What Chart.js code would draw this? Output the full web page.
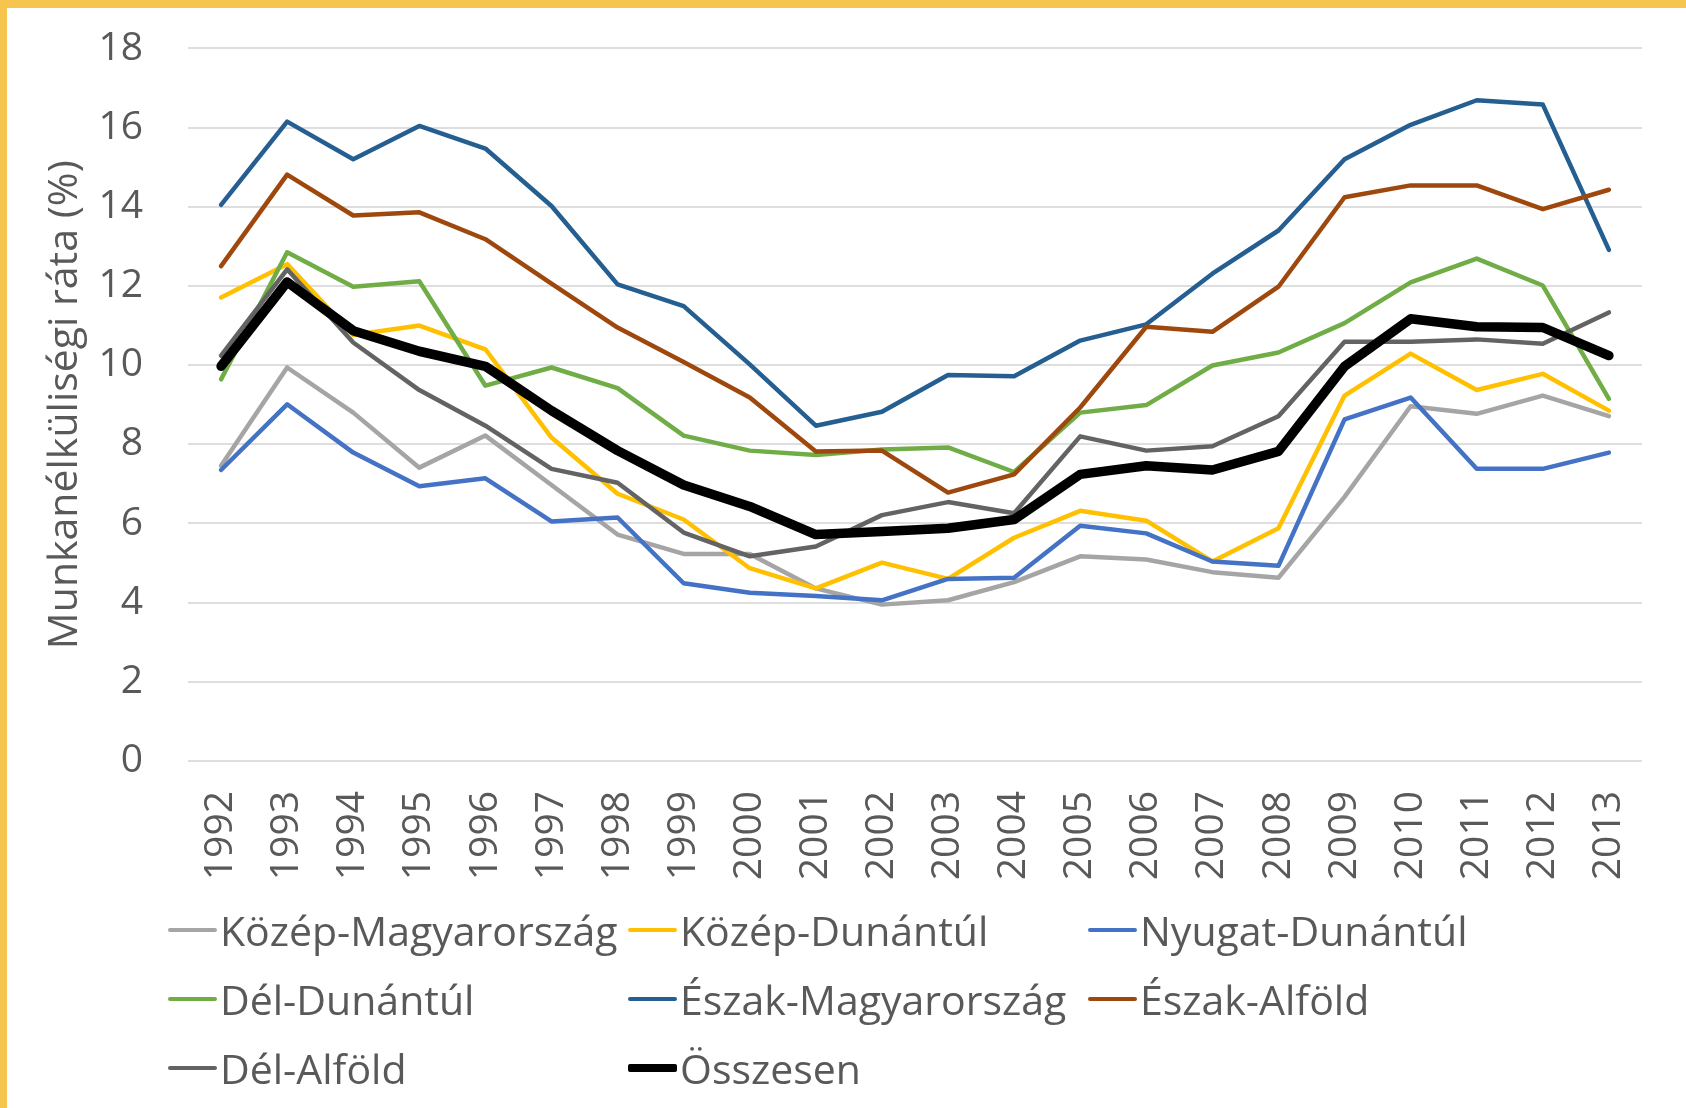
<!DOCTYPE html>
<html>
<head>
<meta charset="utf-8">
<script src="https://cdn.jsdelivr.net/npm/chart.js@4"></script>
<style>
  html, body { margin: 0; padding: 0; background: #fff; }
  body { width: 1686px; height: 1108px; position: relative; overflow: hidden; font-family: "Open Sans", sans-serif; }
  .frame-top { position: absolute; left: 0; top: 0; width: 1686px; height: 8px; background: #f5c54e; z-index: 2; }
  .frame-left { position: absolute; left: 0; top: 0; width: 7px; height: 1108px; background: #f5c54e; z-index: 2; }
  /* canvas pulled up a little: chart.js keeps ~68px above the plot for the rotated labels */
  .chart-box { position: absolute; left: 0; top: -20px; width: 1686px; height: 922px; }
  #legend { position: absolute; left: 168px; top: 895px; display: grid; grid-template-columns: 460px 460px 460px; grid-auto-rows: 69px; }
  .item { display: flex; align-items: center; color: #595959; font-size: 41px; white-space: nowrap; }
  .swatch { width: 49px; margin-right: 3px; border-radius: 2px; }
</style>
</head>
<body>
<div class="frame-top"></div>
<div class="frame-left"></div>
<div class="chart-box"><canvas id="chart"></canvas></div>
<div id="legend"></div>
<script>
const years = ["1992","1993","1994","1995","1996","1997","1998","1999","2000","2001","2002",
  "2003","2004","2005","2006","2007","2008","2009","2010","2011","2012","2013"];

const kozepMagyarorszag = [7.46,9.94,8.8,7.41,8.22,6.97,5.72,5.23,5.23,4.36,3.95,4.06,4.52,5.17,5.09,4.77,4.63,6.67,8.96,8.77,9.23,8.71];
const kozepDunantul = [11.71,12.55,10.76,11.0,10.4,8.17,6.75,6.1,4.87,4.36,5.01,4.6,5.64,6.32,6.07,5.04,5.88,9.23,10.29,9.37,9.78,8.85];
const nyugatDunantul = [7.35,9.01,7.79,6.94,7.14,6.05,6.15,4.49,4.25,4.17,4.06,4.6,4.63,5.94,5.75,5.04,4.93,8.63,9.18,7.38,7.38,7.79];
const delDunantul = [9.64,12.85,11.98,12.12,9.48,9.94,9.42,8.22,7.84,7.73,7.87,7.92,7.3,8.8,8.99,9.99,10.32,11.06,12.09,12.69,12.01,9.15];
const eszakMagyarorszag = [14.05,16.15,15.2,16.04,15.47,14.02,12.04,11.49,10.02,8.47,8.82,9.75,9.72,10.62,11.03,12.31,13.4,15.2,16.07,16.69,16.58,12.91];
const eszakAlfold = [12.5,14.81,13.78,13.86,13.18,12.06,10.95,10.08,9.18,7.82,7.84,6.78,7.24,8.93,10.97,10.84,11.98,14.24,14.54,14.54,13.94,14.43];
const delAlfold = [10.24,12.42,10.57,9.37,8.47,7.38,7.03,5.77,5.17,5.42,6.21,6.54,6.26,8.2,7.84,7.95,8.71,10.59,10.59,10.65,10.54,11.33];
const osszesen = [9.97,12.1,10.87,10.35,9.97,8.85,7.84,6.97,6.43,5.72,5.8,5.88,6.1,7.24,7.46,7.35,7.82,9.97,11.17,10.97,10.95,10.24];

const seriesNames = ["Közép-Magyarország","Közép-Dunántúl","Nyugat-Dunántúl","Dél-Dunántúl",
  "Észak-Magyarország","Észak-Alföld","Dél-Alföld","Összesen"];
const seriesValues = [kozepMagyarorszag, kozepDunantul, nyugatDunantul, delDunantul,
  eszakMagyarorszag, eszakAlfold, delAlfold, osszesen];
const seriesColors = ["#a5a5a5","#ffc000","#4472c4","#70ad47","#255e91","#9e480e","#636363","#000000"];

const yTicks = [0, 2, 4, 6, 8, 10, 12, 14, 16, 18];
const axisTitle = "Munkanélküliségi ráta (%)";

const datasets = seriesNames.map((name, i) => {
  const total = i === seriesNames.length - 1;
  return {
    label: name,
    data: seriesValues[i],
    borderColor: seriesColors[i],
    backgroundColor: seriesColors[i],
    borderWidth: total ? 9.5 : 4.5,
    pointRadius: 0,
    tension: 0,
    borderJoinStyle: "round",
    borderCapStyle: "round",
    order: total ? 0 : 10 - i
  };
});

const textColor = "#595959";

const chart = new Chart(document.getElementById("chart"), {
  type: "line",
  data: { labels: years, datasets: datasets },
  options: {
    responsive: true,
    maintainAspectRatio: false,
    animation: false,
    layout: { padding: { top: 28, right: 13, left: 0, bottom: 0 } },
    plugins: {
      legend: { display: false },
      tooltip: { enabled: false }
    },
    scales: {
      x: {
        offset: true,
        grid: { display: false, drawTicks: false },
        border: { display: false },
        ticks: {
          color: textColor,
          font: { family: "Open Sans", size: 39 },
          minRotation: 90,
          maxRotation: 90,
          padding: 30,
          autoSkip: false
        },
        afterFit: (scale) => { scale.height = 141; }
      },
      y: {
        min: yTicks[0],
        max: yTicks[yTicks.length - 1],
        afterBuildTicks: (scale) => { scale.ticks = yTicks.map(v => ({ value: v })); },
        grid: { color: "#dedede", lineWidth: 2, drawTicks: false },
        border: { display: false },
        ticks: {
          color: textColor,
          font: { family: "Open Sans", size: 39 },
          padding: 45
        },
        title: {
          display: true,
          text: axisTitle,
          color: textColor,
          font: { family: "Open Sans", size: 41 },
          padding: { top: 41, bottom: 0 }
        },
        afterFit: (scale) => { scale.width = 188; }
      }
    }
  }
});

// legend laid out as a 3-column grid like the original
const legend = document.getElementById("legend");
chart.data.datasets.forEach((ds) => {
  const item = document.createElement("div");
  item.className = "item";
  const sw = document.createElement("span");
  sw.className = "swatch";
  sw.style.background = ds.borderColor;
  sw.style.height = ds.borderWidth > 5 ? "8px" : "4px";
  const txt = document.createElement("span");
  txt.textContent = ds.label;
  item.appendChild(sw);
  item.appendChild(txt);
  legend.appendChild(item);
});
</script>
</body>
</html>
